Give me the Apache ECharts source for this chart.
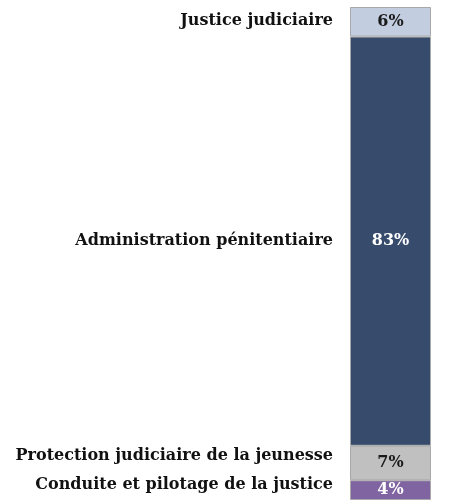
<!DOCTYPE html>
<html>
<head>
<meta charset="utf-8">
<script src="https://cdn.jsdelivr.net/npm/echarts@6/dist/echarts.min.js"></script>
<style>
  html, body { margin: 0; padding: 0; background: #fff; }
  #chart { width: 452px; height: 500px; }
</style>
</head>
<body>
<div id="chart"></div>
<script>
// Budget shares by programme (bottom to top in the stack)
const programmes = [
  'Conduite et pilotage de la justice',
  'Protection judiciaire de la jeunesse',
  'Administration pénitentiaire',
  'Justice judiciaire'
];
const shares = [4, 7, 83, 6];
const fills = ['#8064a2', '#c0c0c0', '#374c6c', '#c3cde0'];
const valueTextColors = ['#ffffff', '#1a1a1a', '#ffffff', '#1a1a1a'];
const nameOffsets = [[0, -5], [0, -7], [0, 0], [0, -1]];

const serifFont = '"DejaVu Serif", "Liberation Serif", serif';

const series = [];
// Coloured segments with the percentage inside
programmes.forEach((name, i) => {
  series.push({
    name: name,
    type: 'bar',
    stack: 'total',
    barWidth: '100%',
    data: [shares[i]],
    itemStyle: { color: fills[i], borderColor: '#a8a8a8', borderWidth: 1 },
    label: {
      show: true,
      position: 'inside',
      formatter: '{c}%',
      color: valueTextColors[i],
      fontFamily: serifFont,
      fontWeight: 'bold',
      fontSize: 16
    }
  });
});
// Transparent overlay carrying the programme names to the left of the bar
programmes.forEach((name, i) => {
  series.push({
    name: name + ' (nom)',
    type: 'bar',
    stack: 'names',
    barWidth: '100%',
    barGap: '-100%',
    data: [shares[i]],
    itemStyle: { color: 'transparent' },
    silent: true,
    label: {
      show: true,
      position: 'left',
      distance: 17,
      offset: nameOffsets[i],
      formatter: name,
      color: '#111111',
      fontFamily: serifFont,
      fontWeight: 'bold',
      fontSize: 16
    }
  });
});

const chart = echarts.init(document.getElementById('chart'), null, { renderer: 'canvas' });
chart.setOption({
  animation: false,
  grid: { left: 350, top: 7, width: 81, height: 494 },
  xAxis: { type: 'category', data: ['Programmes'], show: false },
  yAxis: { type: 'value', min: 0, max: 100, show: false },
  series: series
});
</script>
</body>
</html>
